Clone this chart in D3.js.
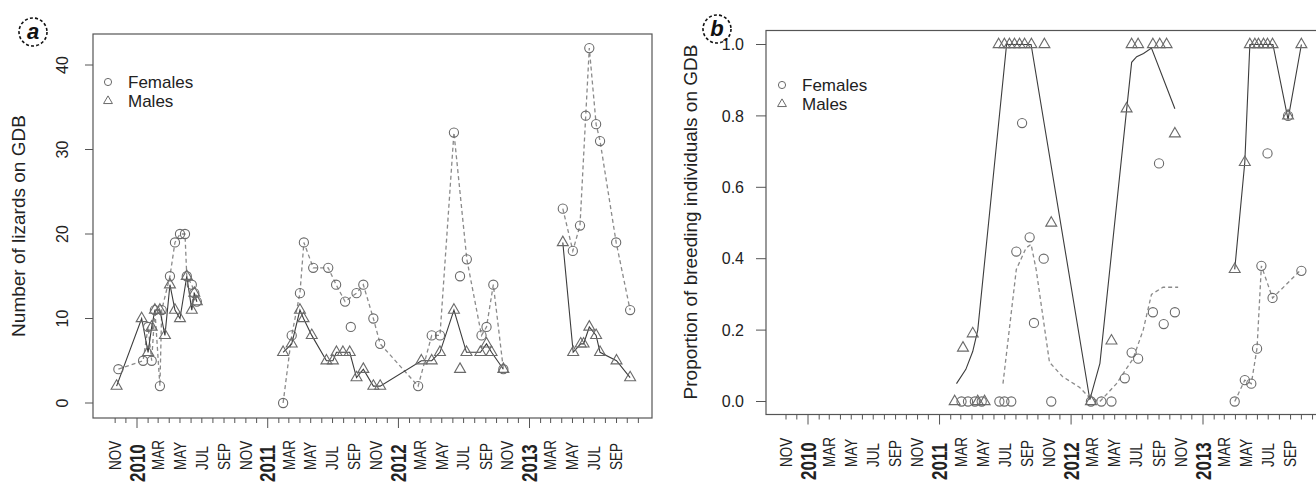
<!DOCTYPE html>
<html><head><meta charset="utf-8">
<script src="https://cdn.jsdelivr.net/npm/d3@7"></script>
<style>body{margin:0;background:#fff}svg{display:block}text{font-family:"Liberation Sans",Arial,sans-serif}</style>
</head><body><svg id="c" width="1316" height="484"></svg>
<script>
// ---------------- DATA ----------------
const xTickLabels = ["NOV","2010","MAR","MAY","JUL","SEP","NOV","2011","MAR","MAY","JUL","SEP","NOV","2012","MAR","MAY","JUL","SEP","NOV","2013","MAR","MAY","JUL","SEP"];
const yTicksA = [0,10,20,30,40];
const yTicksB = [0,0.2,0.4,0.6,0.8,1.0];
const legendLabels = ["Females","Males"];
const yTitleA = "Number of lizards on GDB";
const yTitleB = "Proportion of breeding individuals on GDB";

// Panel a: number of lizards
const femalesA = [
 ["2009-11-10",4],["2010-01-18",5],["2010-02-01",9],["2010-02-11",5],["2010-02-20",11],["2010-03-06",2],["2010-03-11",11],
 ["2010-04-03",15],["2010-04-17",19],["2010-05-01",20],["2010-05-15",20],["2010-05-20",15],["2010-06-03",14],["2010-06-10",13],["2010-06-17",12],
 ["2011-02-13",0],["2011-03-09",8],["2011-04-01",13],["2011-04-12",19],["2011-05-08",16],["2011-06-19",16],["2011-07-11",14],
 ["2011-08-05",12],["2011-08-21",9],["2011-09-06",13],["2011-09-25",14],["2011-10-23",10],["2011-11-11",7],
 ["2012-02-25",2],["2012-04-03",8],["2012-04-26",8],["2012-06-04",32],["2012-06-21",15],["2012-07-10",17],["2012-08-20",8],
 ["2012-09-03",9],["2012-09-22",14],["2012-10-20",4],
 ["2013-04-04",23],["2013-05-02",18],["2013-05-22",21],["2013-06-07",34],["2013-06-17",42],["2013-07-06",33],["2013-07-17",31],
 ["2013-08-31",19],["2013-10-09",11]
];
const malesA = [
 ["2009-11-05",2],["2010-01-14",10],["2010-02-01",6],["2010-02-11",9],["2010-02-20",11],["2010-03-06",11],["2010-03-20",8],
 ["2010-04-03",14],["2010-04-17",11],["2010-05-01",10],["2010-05-20",15],["2010-06-03",11],["2010-06-10",13],["2010-06-17",12],
 ["2011-02-13",6],["2011-03-09",7],["2011-04-01",11],["2011-04-11",10],["2011-05-04",8],["2011-06-14",5],["2011-07-02",5],
 ["2011-07-12",6],["2011-07-30",6],["2011-08-18",6],["2011-09-06",3],["2011-09-25",4],["2011-10-23",2],["2011-11-11",2],
 ["2012-03-05",5],["2012-04-03",5],["2012-04-26",6],["2012-06-04",11],["2012-06-21",4],["2012-07-09",6],["2012-08-17",6],
 ["2012-09-03",7],["2012-09-17",6],["2012-10-20",4],
 ["2013-04-04",19],["2013-05-03",6],["2013-05-24",7],["2013-06-01",7],["2013-06-17",9],["2013-07-06",8],["2013-07-17",6],
 ["2013-09-01",5],["2013-10-09",3]
];
// line vertices (null value = break in the line)
const femalesALine = [
 ["2009-11-10",4],["2010-01-18",5],["2010-02-01",9],["2010-02-11",5],["2010-02-20",11],["2010-03-06",2],["2010-03-11",11],
 ["2010-04-03",15],["2010-04-17",19],["2010-05-01",20],["2010-05-15",20],["2010-05-20",15],["2010-06-03",14],["2010-06-10",13],["2010-06-17",12],
 ["2010-10-01",null],
 ["2011-02-13",0],["2011-03-09",8],["2011-04-01",13],["2011-04-12",19],["2011-05-08",16],["2011-06-19",16],["2011-07-11",14],
 ["2011-08-05",12],["2011-09-06",13],["2011-09-25",14],["2011-10-23",10],["2011-11-11",7],
 ["2012-02-25",2],["2012-04-03",8],["2012-04-26",8],["2012-06-04",32],["2012-07-10",17],["2012-08-20",8],
 ["2012-09-03",9],["2012-09-22",14],["2012-10-20",4],
 ["2013-01-01",null],
 ["2013-04-04",23],["2013-05-02",18],["2013-05-22",21],["2013-06-07",34],["2013-06-17",42],["2013-07-06",33],["2013-07-17",31],
 ["2013-08-31",19],["2013-10-09",11]
];
const malesALine = [
 ["2009-11-05",2],["2010-01-14",10],["2010-02-01",6],["2010-02-11",9],["2010-02-20",11],["2010-03-06",11],["2010-03-20",8],
 ["2010-04-03",14],["2010-04-17",11],["2010-05-01",10],["2010-05-20",15],["2010-06-03",11],["2010-06-10",13],["2010-06-17",12],
 ["2010-10-01",null],
 ["2011-02-13",6],["2011-03-09",7],["2011-04-01",11],["2011-04-11",10],["2011-05-04",8],["2011-06-14",5],["2011-07-02",5],
 ["2011-07-12",6],["2011-07-30",6],["2011-08-18",6],["2011-09-06",3],["2011-09-25",4],["2011-10-23",2],["2011-11-11",2],
 ["2012-03-05",5],["2012-04-03",5],["2012-04-26",6],["2012-06-04",11],["2012-07-09",6],["2012-08-17",6],
 ["2012-09-03",7],["2012-09-17",6],["2012-10-20",4],
 ["2013-01-01",null],
 ["2013-04-04",19],["2013-05-03",6],["2013-05-24",7],["2013-06-01",7],["2013-06-17",9],["2013-07-06",8],["2013-07-17",6],
 ["2013-09-01",5],["2013-10-09",3]
];

// Panel b: proportion breeding
const femalesB = [
 ["2011-03-03",0],["2011-03-21",0],["2011-04-09",0],["2011-04-28",0],["2011-06-16",0],["2011-06-30",0],["2011-07-19",0],
 ["2011-08-02",0.42],["2011-08-18",0.78],["2011-09-08",0.46],["2011-09-20",0.22],["2011-10-17",0.40],["2011-11-07",0],
 ["2012-02-25",0],["2012-03-25",0],["2012-04-22",0],["2012-05-29",0.065],["2012-06-17",0.137],["2012-07-05",0.12],
 ["2012-08-15",0.25],["2012-09-01",0.667],["2012-09-14",0.217],["2012-10-15",0.25],
 ["2013-03-30",0],["2013-04-27",0.06],["2013-05-15",0.05],["2013-05-31",0.148],["2013-06-12",0.38],["2013-06-29",0.695],
 ["2013-07-13",0.29],["2013-08-25",0.8],["2013-10-01",0.366]
];
const malesB = [
 ["2011-02-12",0],["2011-03-07",0.15],["2011-04-03",0.19],["2011-04-17",0],["2011-05-06",0],
 ["2011-06-14",1],["2011-06-30",1],["2011-07-14",1],["2011-07-28",1],["2011-08-11",1],["2011-08-25",1],["2011-09-13",1],
 ["2011-10-19",1],["2011-11-07",0.5],
 ["2012-02-25",0],["2012-04-22",0.17],["2012-06-03",0.82],["2012-06-17",1],["2012-07-05",1],["2012-08-15",1],
 ["2012-09-03",1],["2012-09-22",1],["2012-10-15",0.75],
 ["2013-03-30",0.37],["2013-04-27",0.67],["2013-05-11",1],["2013-05-25",1],["2013-06-04",1],["2013-06-18",1],
 ["2013-06-29",1],["2013-07-13",1],["2013-08-25",0.8],["2013-10-01",1]
];
const femalesBFit = [
 ["2011-06-26",0.05],["2011-08-02",0.37],["2011-08-29",0.43],["2011-09-12",0.44],["2011-09-26",0.37],["2011-11-02",0.11],
 ["2011-12-08",0.07],["2012-01-24",0.04],["2012-02-22",0.01],["2012-03-21",0.0],["2012-05-06",0.05],["2012-06-21",0.12],
 ["2012-07-19",0.2],["2012-08-11",0.30],["2012-09-12",0.32],["2012-10-24",0.32],
 ["2013-01-01",null],
 ["2013-03-30",0],["2013-04-27",0.06],["2013-05-15",0.05],["2013-05-31",0.15],["2013-06-12",0.38],["2013-07-13",0.29],["2013-10-01",0.37]
];
const malesBFit = [
 ["2011-02-17",0.05],["2011-03-15",0.09],["2011-04-03",0.14],["2011-04-17",0.2],["2011-07-06",1.0],["2011-09-12",1.0],
 ["2012-02-22",0.005],["2012-03-21",0.107],["2012-06-03",0.817],["2012-06-17",0.95],["2012-07-01",0.966],["2012-07-20",0.975],
 ["2012-08-11",0.99],["2012-10-15",0.82],
 ["2013-01-01",null],
 ["2013-03-30",0.37],["2013-04-27",0.67],["2013-05-11",1.0],["2013-07-14",1.0],["2013-08-25",0.79],["2013-10-01",1.0]
];

// ---------------- DRAWING ----------------
const parse = d3.utcParse("%Y-%m-%d");
const svg = d3.select("#c");
svg.append("rect").attr("width",1316).attr("height",484).attr("fill","#fff");

const PT = "#6a6a6a", SOLID = "#3c3c3c", DASH = "#8a8a8a", AX = "#555";

function panel(cfg) {
  const g = svg.append("g");
  const x = d3.scaleUtc().domain([Date.UTC(2010,0,1), Date.UTC(2013,0,1)]).range(cfg.xr);
  const y = d3.scaleLinear().domain(cfg.yDom).range(cfg.yRng);

  // box
  g.append("rect").attr("x",cfg.box[0]).attr("y",cfg.box[1])
    .attr("width",cfg.box[2]-cfg.box[0]).attr("height",cfg.box[3]-cfg.box[1])
    .attr("fill","none").attr("stroke",AX).attr("stroke-width",1.2);

  // x ticks (monthly, long at January)
  const months = d3.utcMonth.range(new Date(Date.UTC(2009,10,1)), new Date(Date.UTC(2013,10,2)));
  g.selectAll(null).data(months).join("line")
    .attr("x1",d=>x(d)).attr("x2",d=>x(d))
    .attr("y1",cfg.box[3]).attr("y2",d=>cfg.box[3]+(d.getUTCMonth()===0?10:5))
    .attr("stroke",AX).attr("stroke-width",1);
  const start = new Date(Date.UTC(2009,10,1));
  xTickLabels.forEach((lab,i)=>{
    const d = d3.utcMonth.offset(start, 2*i);
    const isYear = /^\d{4}$/.test(lab);
    const yy = isYear ? cfg.yearY : cfg.monthY;
    g.append("text").attr("transform",`translate(${x(d)},${yy}) rotate(-90) scale(1,${isYear?1.25:1.18})`)
      .attr("dy","0.36em").attr("text-anchor","start")
      .attr("font-size", isYear?17:13.5).attr("font-weight", isYear?"bold":"normal")
      .attr("fill","#222").text(lab);
  });

  // y axis ticks
  cfg.yTicks.forEach(v=>{
    g.append("line").attr("x1",cfg.box[0]-cfg.tickLen).attr("x2",cfg.box[0])
      .attr("y1",y(v)).attr("y2",y(v)).attr("stroke",AX);
    if (cfg.rotY) {
      g.append("text").attr("transform",`translate(${cfg.yLabX},${y(v)}) rotate(-90)`)
        .attr("text-anchor","middle").attr("dy","0.36em").attr("font-size",16).attr("fill","#222").text(d3.format("d")(v));
    } else {
      g.append("text").attr("x",cfg.yLabX).attr("y",y(v)).attr("text-anchor","end")
        .attr("dy","0.36em").attr("font-size",16).attr("fill","#222").text(d3.format(".1f")(v));
    }
  });
  // y title
  g.append("text").attr("transform",`translate(${cfg.titleX},${cfg.titleY}) rotate(-90)`)
    .attr("text-anchor","middle").attr("dy","0.36em").attr("font-size",cfg.titleSize).attr("fill","#222").text(cfg.title);

  // lines
  const line = d3.line().defined(d=>d[1]!==null).x(d=>x(parse(d[0]))).y(d=>y(d[1]));
  g.append("path").datum(cfg.fLine).attr("d",line).attr("fill","none")
    .attr("stroke",DASH).attr("stroke-width",1.3).attr("stroke-dasharray","4,3");
  g.append("path").datum(cfg.mLine).attr("d",line).attr("fill","none")
    .attr("stroke",SOLID).attr("stroke-width",1.1);

  // points
  g.selectAll(null).data(cfg.f).join("circle")
    .attr("cx",d=>x(parse(d[0]))).attr("cy",d=>y(d[1])).attr("r",4.6)
    .attr("fill","none").attr("stroke",PT).attr("stroke-width",1.1);
  const tri = d3.symbol().type(d3.symbolTriangle).size(52);
  g.selectAll(null).data(cfg.m).join("path")
    .attr("transform",d=>`translate(${x(parse(d[0]))},${y(d[1])})`).attr("d",tri)
    .attr("fill","none").attr("stroke",PT).attr("stroke-width",1.1);

  // legend
  const [lx,ly] = cfg.leg;
  g.append("circle").attr("cx",lx).attr("cy",ly).attr("r",3.6).attr("fill","none").attr("stroke",PT);
  g.append("path").attr("transform",`translate(${lx},${ly+19})`).attr("d",d3.symbol().type(d3.symbolTriangle).size(34))
    .attr("fill","none").attr("stroke",PT);
  legendLabels.forEach((t,i)=>{
    g.append("text").attr("x",lx+20).attr("y",ly+i*19).attr("dy","0.36em").attr("font-size",17).attr("fill","#222").text(t);
  });

  // panel letter
  const [px,py] = cfg.letterPos;
  g.append("circle").attr("cx",px).attr("cy",py).attr("r",14).attr("fill","none")
    .attr("stroke","#111").attr("stroke-width",1.6).attr("stroke-dasharray","3,2.2");
  g.append("text").attr("x",px).attr("y",py).attr("dy","0.33em").attr("text-anchor","middle")
    .attr("font-family","'Liberation Serif','DejaVu Serif',serif").attr("font-style","italic").attr("font-weight","bold")
    .attr("font-size",22).attr("fill","#111").text(cfg.letter);
}

panel({
  box:[93,34,652,418], xr:[137,529.5], yDom:[0,40], yRng:[403,65],
  monthY:470, yearY:482, yTicks:yTicksA, tickLen:8, rotY:true, yLabX:62,
  title:yTitleA, titleX:18, titleY:226, titleSize:19,
  f:femalesA, m:malesA, fLine:femalesALine, mLine:malesALine,
  leg:[108,82], letter:"a", letterPos:[33,32]
});
panel({
  box:[766,30.5,1345,414.5], xr:[808,1203], yDom:[0,1], yRng:[401.5,44.5],
  monthY:467, yearY:480, yTicks:yTicksB, tickLen:10, rotY:false, yLabX:744,
  title:yTitleB, titleX:690, titleY:222, titleSize:19,
  f:femalesB, m:malesB, fLine:femalesBFit, mLine:malesBFit,
  leg:[782,85], letter:"b", letterPos:[717,29]
});
</script></body></html>
